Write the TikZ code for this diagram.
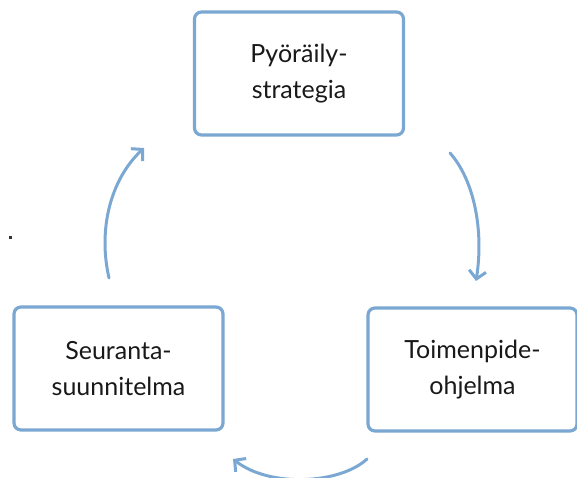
\documentclass[tikz,border=0pt]{standalone}
\usepackage{fontspec}
\setmainfont{Lato}
\usetikzlibrary{arrows.meta}
\definecolor{cycleblue}{RGB}{122,168,210}
\begin{document}
\begin{tikzpicture}[x=1pt,y=-1pt,
  box/.style={draw=cycleblue,line width=3.2pt,rounded corners=7pt,fill=white,
    minimum width=209pt,minimum height=123pt,align=center,inner sep=0pt,
    font=\fontsize{25}{36}\selectfont,text=black!90},
  cyc/.style={draw=cycleblue,line width=3pt,line cap=round,
    -{Straight Barb[length=8pt,width=17pt,line width=3pt]}}]
\useasboundingbox (0,0) rectangle (577,478);
\node [box] (strat) at (299,73.5) {Pyöräily-\\strategia};
\node [box] (prog) at (472.5,369.5) {Toimenpide-\\ohjelma};
\node [box] (seur) at (118.5,368.5) {Seuranta-\\suunnitelma};
\coordinate (r1) at (450,153);
\coordinate (r2) at (476,281);
\coordinate (b1) at (367,459);
\coordinate (b2) at (233,459);
\coordinate (l1) at (109,278);
\coordinate (l2) at (144,148);
\draw [cyc] (r1) .. controls (474,180) and (484,230) .. (r2);
\draw [cyc] (b1) .. controls (340,484) and (270,488) .. (b2);
\draw [cyc] (l1) .. controls (98,230) and (110,180) .. (l2);
\fill [black!80] (8.5,235.5) rectangle (11.5,238.5);
\end{tikzpicture}
\end{document}
